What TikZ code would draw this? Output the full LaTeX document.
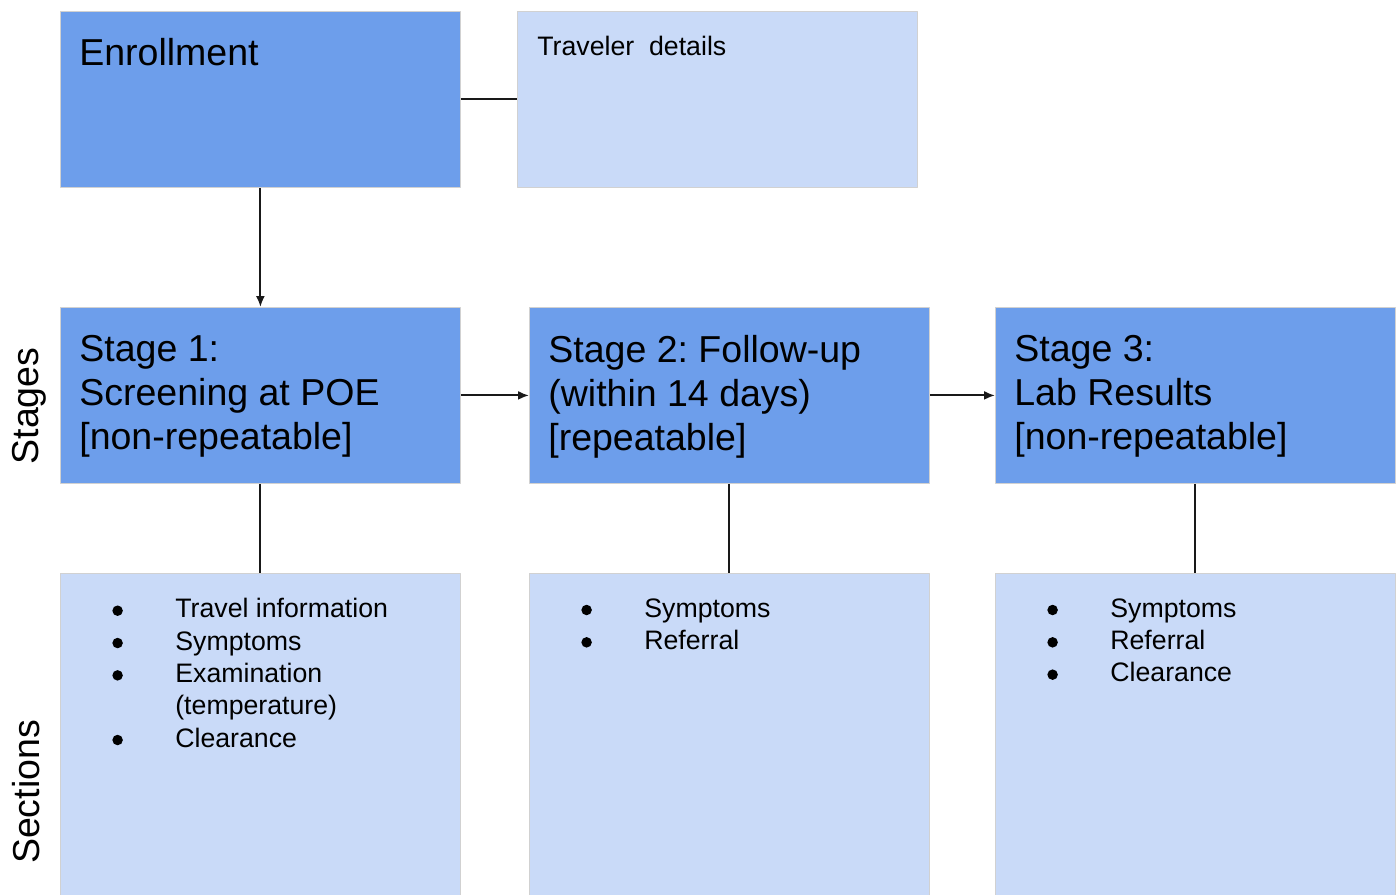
\documentclass[tikz,border=0pt]{standalone}
\usepackage{fontspec}
\setmainfont{Liberation Sans}
\usetikzlibrary{arrows.meta}
\frenchspacing
\definecolor{stageblue}{HTML}{6D9EEB}
\definecolor{secblue}{HTML}{C9DAF8}
\newcommand{\bul}{\makebox[1.26cm][l]{\tikz[baseline=0pt]\fill (0,0.14cm) circle (0.105cm);}}
\newcommand{\ind}{\hspace*{1.26cm}}
\begin{document}
\begin{tikzpicture}[x=0.02cm, y=-0.02cm, line join=round, >={Latex[length=2.2mm,width=1.8mm]},
		box/.style={draw=black!18, line width=0.5pt, anchor=north west, inner sep=0pt, minimum width=8cm, minimum height=3.52cm},
		stage/.style={box, fill=stageblue},
		sect/.style={box, fill=secblue},
		big/.style={anchor=north west, inner sep=0pt, align=left, font=\fontsize{21.35}{25.1}\selectfont},
		small/.style={anchor=north west, inner sep=0pt, align=left, font=\fontsize{15.2}{18.4}\selectfont},
		side/.style={rotate=90, anchor=base, inner sep=0pt, font=\fontsize{21.35}{25.1}\selectfont},
		link/.style={line width=1.1pt, black!90}]
	\useasboundingbox (0,0) rectangle (1399,895);
	\node[stage] (enr) at (60,11) {};
	\node[sect] (trav) at (517,11) {};
	\node[stage] (st1) at (60,307) {};
	\node[stage] (st2) at (529,307) {};
	\node[stage] (st3) at (995,307) {};
	\node[sect, minimum height=6.6cm] (sec1) at (60,573) {};
	\node[sect, minimum height=6.6cm] (sec2) at (529,573) {};
	\node[sect, minimum height=6.6cm] (sec3) at (995,573) {};
	\node[big] (enr-t) at ([shift={(19,27)}]enr.north west) {Enrollment};
	\node[small] (trav-t) at ([shift={(20,25)}]trav.north west) {Traveler\ \ details};
	\node[big] (st1-t) at ([shift={(19,28)}]st1.north west) {Stage 1:\\Screening at POE\\{[}non-repeatable{]}};
	\node[big] (st2-t) at ([shift={(19,28)}]st2.north west) {Stage 2: Follow-up\\(within 14 days)\\{[}repeatable{]}};
	\node[big] (st3-t) at ([shift={(19,28)}]st3.north west) {Stage 3:\\Lab Results\\{[}non-repeatable{]}};
	\node[small] (sec1-t) at ([shift={(52,25)}]sec1.north west) {\bul Travel information\\\bul Symptoms\\\bul Examination\\\ind(temperature)\\\bul Clearance};
	\node[small] (sec2-t) at ([shift={(52,25)}]sec2.north west) {\bul Symptoms\\\bul Referral};
	\node[small] (sec3-t) at ([shift={(52,25)}]sec3.north west) {\bul Symptoms\\\bul Referral\\\bul Clearance};
	\node[side] (stg) at (38,406) {Stages};
	\node[side] (sct) at (39,792) {Sections};
	\draw[link] (enr.east) -- (trav.west);
	\draw[link,->] (enr.south) -- (st1.north);
	\draw[link,->] (st1.east) -- (st2.west);
	\draw[link,->] (st2.east) -- (st3.west);
	\draw[link] (st1.south) -- (sec1.north);
	\draw[link] (st2.south) -- (sec2.north);
	\draw[link] (st3.south) -- (sec3.north);
\end{tikzpicture}
\end{document}
